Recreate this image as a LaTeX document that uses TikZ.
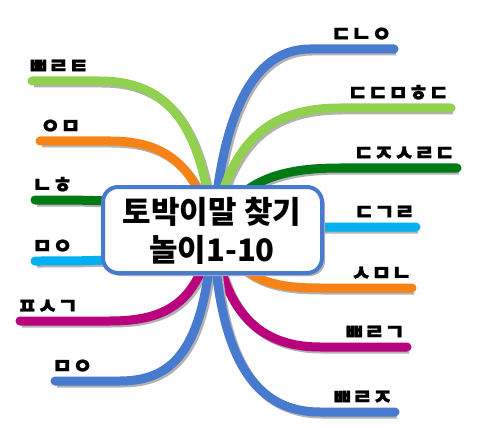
\documentclass[tikz,border=0pt]{standalone}
\usepackage{fontspec}
\usetikzlibrary{calc}
\setmainfont{Noto Sans CJK KR}
\newfontfamily\jamofont{Noto Sans CJK KR}[FakeBold=1]
\definecolor{mapblue}{RGB}{72,122,208}
\definecolor{mapgreen}{RGB}{146,208,80}
\definecolor{maporange}{RGB}{247,130,22}
\definecolor{mapdkgreen}{RGB}{0,122,20}
\definecolor{mapcyan}{RGB}{0,176,240}
\definecolor{mapmagenta}{RGB}{185,0,125}
\tikzset{
  branch/.style={line width=9pt, line cap=round,
    preaction={draw=black!30, line width=9pt, transform canvas={shift={(2pt,-2pt)}}}},
  leftlbl/.style={anchor=base west, inner sep=0pt, font=\jamofont\bfseries\fontsize{22}{22}\selectfont},
  rightlbl/.style={anchor=base east, inner sep=0pt, font=\jamofont\bfseries\fontsize{22}{22}\selectfont}
}
\begin{document}
\begin{tikzpicture}[x=1pt,y=-1pt]
\useasboundingbox (0,0) rectangle (480,428);
\coordinate (hub) at (213,230);
\coordinate (l1) at (32,81);
\coordinate (l2) at (40,141);
\coordinate (l3) at (35,200);
\coordinate (l4) at (35,261);
\coordinate (l5) at (20,321);
\coordinate (l6) at (55,381);
\coordinate (r1) at (394,49);
\coordinate (r2) at (451,108);
\coordinate (r3) at (457,168);
\coordinate (r4) at (416,227);
\coordinate (r5) at (412,288);
\coordinate (r6) at (407,347);
\coordinate (r7) at (395,412);
\draw [branch, mapgreen] (hub) .. controls (202,130) and (172,81) .. (100,81) -- (l1);
\draw [branch, maporange] (hub) .. controls (195,160) and (160,141) .. (110,141) -- (l2);
\draw [branch, mapdkgreen] (hub) .. controls (170,200) and (120,200) .. (l3);
\draw [branch, mapcyan] (hub) .. controls (170,261) and (120,261) .. (l4);
\draw [branch, mapmagenta] (hub) .. controls (200,300) and (170,321) .. (110,321) -- (l5);
\draw [branch, mapblue] (hub) .. controls (205,340) and (180,381) .. (120,381) -- (l6);
\draw [branch, mapblue] (hub) .. controls (222,120) and (250,49) .. (310,49) -- (r1);
\draw [branch, mapgreen] (hub) .. controls (230,140) and (270,108) .. (340,108) -- (r2);
\draw [branch, mapdkgreen] (hub) .. controls (240,180) and (280,168) .. (340,168) -- (r3);
\draw [branch, mapcyan] (hub) .. controls (260,227) and (300,227) .. (r4);
\draw [branch, maporange] (hub) .. controls (240,280) and (270,288) .. (320,288) -- (r5);
\draw [branch, mapmagenta] (hub) .. controls (222,300) and (250,347) .. (320,347) -- (r6);
\draw [branch, mapblue] (hub) .. controls (218,330) and (240,412) .. (320,412) -- (r7);
\fill [black!30, rounded corners=15pt] (106,190) rectangle (325,276);
\draw [mapblue, line width=4pt, fill=white, rounded corners=15pt] (103,187) rectangle (322,273);
\node (title) [align=center, font=\bfseries\fontsize{31}{38}\selectfont] at (212,231) {토박이말 찾기\\놀이1-10};
\node (t1) [leftlbl] at ($(l1)+(-4,-7)$) {ㅃㄹㅌ};
\node (t2) [leftlbl] at ($(l2)+(0,-7)$) {ㅇㅁ};
\node (t3) [leftlbl] at ($(l3)+(-3,-7)$) {ㄴㅎ};
\node (t4) [leftlbl] at ($(l4)+(-3,-7)$) {ㅁㅇ};
\node (t5) [leftlbl] at ($(l5)+(-3,-7)$) {ㅍㅅㄱ};
\node (t6) [leftlbl] at ($(l6)+(-3,-7)$) {ㅁㅇ};
\node (s1) [rightlbl] at ($(r1)+(-2,-7)$) {ㄷㄴㅇ};
\node (s2) [rightlbl] at ($(r2)+(-2,-7)$) {ㄷㄷㅁㅎㄷ};
\node (s3) [rightlbl] at ($(r3)+(-2,-7)$) {ㄷㅈㅅㄹㄷ};
\node (s4) [rightlbl] at ($(r4)+(-1,-7)$) {ㄷㄱㄹ};
\node (s5) [rightlbl] at ($(r5)+(0,-7)$) {ㅅㅁㄴ};
\node (s6) [rightlbl] at ($(r6)+(-2,-7)$) {ㅃㄹㄱ};
\node (s7) [rightlbl] at ($(r7)+(-2,-7)$) {ㅃㄹㅈ};
\end{tikzpicture}
\end{document}
